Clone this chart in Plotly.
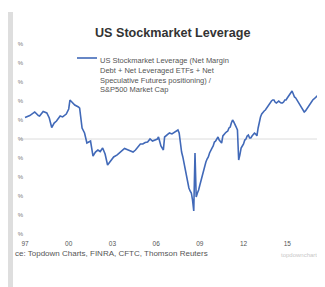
import plotly.graph_objects as go

title = "US Stockmarket Leverage"
series_name = ("US Stockmarket Leverage (Net Margin<br>Debt + Net Leveraged ETFs + Net<br>"
               "Speculative Futures positioning) /<br>S&P500 Market Cap")
source_text = "ce: Topdown Charts, FINRA, CFTC, Thomson Reuters"
watermark = "topdowncharts"

dates = [
    "1997-01", "1997-05", "1997-08", "1997-09", "1997-12", "1998-01", "1998-04", "1998-07",
    "1998-09", "1998-11", "1999-01", "1999-03", "1999-06", "1999-08", "1999-11", "2000-01",
    "2000-02", "2000-04", "2000-06", "2000-09", "2000-10", "2000-12", "2001-02", "2001-04",
    "2001-07", "2001-09", "2001-11", "2002-01", "2002-03", "2002-05", "2002-07", "2002-09",
    "2002-12", "2003-02", "2003-05", "2003-07", "2003-11", "2004-02", "2004-04", "2004-06",
    "2004-08", "2004-10", "2004-12", "2005-02", "2005-04", "2005-06", "2005-08", "2005-10",
    "2005-11", "2005-12", "2006-02", "2006-03", "2006-05", "2006-07", "2006-08", "2006-11",
    "2006-12", "2007-02", "2007-05", "2007-06",
    "2007-07", "2007-08", "2007-09", "2007-10", "2007-11", "2007-12",
    "2008-01", "2008-02", "2008-03", "2008-04", "2008-05", "2008-06",
    "2008-07", "2008-08", "2008-09", "2008-10", "2008-11", "2008-12",
    "2009-01", "2009-02", "2009-03", "2009-04", "2009-05", "2009-06",
    "2009-07", "2009-08", "2009-09", "2009-10", "2009-11", "2009-12",
    "2010-01", "2010-02", "2010-03", "2010-04", "2010-05", "2010-06",
    "2010-07", "2010-08", "2010-09", "2010-10", "2010-11", "2010-12",
    "2011-01", "2011-02", "2011-03", "2011-04", "2011-05", "2011-06",
    "2011-07", "2011-08", "2011-09", "2011-10", "2011-11", "2011-12",
    "2012-01", "2012-02", "2012-03", "2012-04", "2012-05", "2012-06",
    "2012-07", "2012-08", "2012-09", "2012-10", "2012-11", "2012-12",
    "2013-01", "2013-02", "2013-03", "2013-04", "2013-05", "2013-06",
    "2013-07", "2013-08", "2013-09", "2013-10", "2013-11", "2013-12",
    "2014-01", "2014-02", "2014-03", "2014-04", "2014-05", "2014-06",
    "2014-07", "2014-08", "2014-09", "2014-10", "2014-11", "2014-12",
    "2015-01", "2015-02", "2015-03", "2015-04", "2015-05", "2015-06",
    "2015-07", "2015-08", "2015-09", "2015-10", "2015-11", "2015-12",
    "2016-01", "2016-02", "2016-03", "2016-04", "2016-05", "2016-06",
    "2016-07", "2016-08", "2016-09", "2016-10", "2016-11", "2016-12",
    "2017-01", "2017-02", "2017-03", "2017-04", "2017-05", "2017-06",
    "2017-07", "2017-08",
]

leverage = [
    2.226, 2.247, 2.274, 2.284, 2.247, 2.242, 2.289, 2.274,
    2.221, 2.121, 2.168, 2.189, 2.242, 2.232, 2.263, 2.316,
    2.410, 2.379, 2.358, 2.337, 2.326, 2.116, 2.063, 1.958,
    1.979, 1.821, 1.863, 1.884, 1.868, 1.905, 1.842, 1.726,
    1.779, 1.811, 1.832, 1.853, 1.900, 1.884, 1.874, 1.863,
    1.884, 1.916, 1.947, 1.947, 1.963, 1.968, 2.000, 1.979,
    1.984, 1.995, 2.000, 2.021, 1.926, 1.884, 2.021, 2.053,
    2.063, 2.053, 2.074, 2.084,
    2.095, 2.063, 1.937, 1.863, 1.811, 1.747,
    1.674, 1.600, 1.526, 1.484, 1.453, 1.432,
    1.358, 1.242, 1.853, 1.389, 1.432, 1.463,
    1.516, 1.568, 1.611, 1.674, 1.726, 1.758,
    1.789, 1.811, 1.853, 1.884, 1.905, 1.926,
    1.968, 1.979, 2.000, 2.021, 1.989, 1.968,
    1.958, 2.032, 2.053, 2.063, 2.074, 2.084,
    2.116, 2.126, 2.168, 2.200, 2.179, 2.158,
    2.126, 2.095, 1.779, 1.832, 1.905, 1.926,
    1.947, 1.989, 2.000, 2.032, 2.042, 2.011,
    2.011, 2.032, 2.053, 2.063, 2.053, 2.032,
    2.116, 2.200, 2.232, 2.263, 2.284, 2.295,
    2.305, 2.326, 2.337, 2.358, 2.379, 2.400,
    2.411, 2.411, 2.389, 2.379, 2.389, 2.400,
    2.389, 2.379, 2.379, 2.389, 2.411, 2.411,
    2.432, 2.453, 2.463, 2.484, 2.505, 2.474,
    2.442, 2.432, 2.411, 2.389, 2.368, 2.347,
    2.337, 2.305, 2.284, 2.295, 2.316, 2.326,
    2.347, 2.368, 2.400, 2.411, 2.421, 2.432,
    2.442, 2.463, 2.474, 2.484, 2.495, 2.516,
    2.526, 2.537,
]

x_tick_vals = ["1997-01-01", "2000-01-01", "2003-01-01", "2006-01-01",
               "2009-01-01", "2012-01-01", "2015-01-01"]
x_tick_text = ["97", "00", "03", "06", "09", "12", "15"]
y_tick_vals = [1.0, 1.2, 1.4, 1.6, 1.8, 2.0, 2.2, 2.4, 2.6, 2.8, 3.0]
# only the "%" end of each y label survives the crop in the reference
y_tick_text = ["%", "%", "%", "%", "%", "%", "%", "%", "%", "%", "%"]
reference_level = 2.0

# The page body has an 8px margin; lay out in screen pixels and shift by it.
OFF = 8
W, H = 325 - OFF, 287 - OFF
PLOT_L, PLOT_R, PLOT_T, PLOT_B = 20, 325, 44, 234          # screen pixels
ML, MR = PLOT_L - OFF, (325 - OFF) - (PLOT_R - OFF)
MT, MB = PLOT_T - OFF, H - (PLOT_B - OFF)
PW, PH = W - ML - MR, H - MT - MB


def px(xs):
    return (xs - PLOT_L) / PW


def py(ys):
    return (PLOT_B - ys) / PH


fig = go.Figure()
fig.add_trace(go.Scatter(
    x=dates, y=leverage, mode="lines", name=series_name,
    line=dict(color="#4169B8", width=1.6), showlegend=False,
))
fig.add_hline(y=reference_level, line=dict(color="#dcdcdc", width=1), layer="below")

font_main = "Liberation Sans, Arial, sans-serif"

fig.update_layout(
    width=W, height=H,
    margin=dict(l=ML, r=MR, t=MT, b=MB, pad=0),
    paper_bgcolor="white", plot_bgcolor="white",
    font=dict(family=font_main, color="#555555", size=6),
    xaxis=dict(type="date", range=["1996-08-28", "2017-08-04"],
               tickvals=x_tick_vals, ticktext=x_tick_text,
               showgrid=False, zeroline=False, showline=False, ticks="",
               ticklabelstandoff=4,
               tickfont=dict(size=6.5, color="#555555")),
    yaxis=dict(range=[1.0, 3.0], tickvals=y_tick_vals, ticktext=y_tick_text,
               showgrid=False, zeroline=False, showline=False, ticks="",
               ticklabelstandoff=-4,
               tickfont=dict(size=6, color="#777777")),
    showlegend=False,
)

# title
fig.add_annotation(text="<b>" + title + "</b>", x=px(172), y=py(33), xref="paper", yref="paper",
                   showarrow=False, xanchor="center", yanchor="middle",
                   font=dict(size=12.6, color="#333333", family=font_main))
# legend
fig.add_shape(type="line", xref="paper", yref="paper", x0=px(77), x1=px(97), y0=py(58), y1=py(58),
              line=dict(color="#4169B8", width=1.6))
fig.add_annotation(text=series_name, x=px(98), y=py(53.5), xref="paper", yref="paper",
                   showarrow=False, xanchor="left", yanchor="top", align="left",
                   font=dict(size=7.5, color="#555555", family=font_main))
# source + watermark
fig.add_annotation(text=source_text, x=px(13), y=py(254), xref="paper", yref="paper",
                   showarrow=False, xanchor="left", yanchor="middle",
                   font=dict(size=8, color="#555555", family=font_main))
fig.add_annotation(text=watermark, x=px(279), y=py(255), xref="paper", yref="paper",
                   showarrow=False, xanchor="left", yanchor="middle",
                   font=dict(size=6, color="#c8c8c8", family=font_main))

# gray page edge of the cropped screenshot
fig.add_shape(type="rect", xref="paper", yref="paper", x0=px(8), x1=px(13), y0=py(300), y1=py(12),
              fillcolor="#dedede", line=dict(width=0), layer="above")

fig.write_html("out.html")
